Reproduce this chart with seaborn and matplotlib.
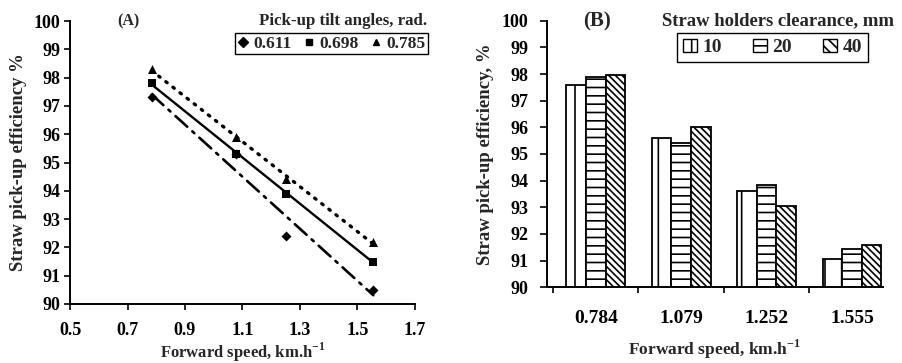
import numpy as np
import pandas as pd
import matplotlib
matplotlib.use('Agg')
import matplotlib.pyplot as plt
import seaborn as sns
from matplotlib.lines import Line2D
from matplotlib.patches import Patch

# ---- Panel A data ----
speeds = [0.784, 1.079, 1.252, 1.555]
tilt_labels = ['0.611', '0.698', '0.785']
eff_0611 = [97.3, 95.3, 92.4, 90.5]
eff_0698 = [97.8, 95.3, 93.9, 91.5]
eff_0785 = [98.3, 95.9, 94.4, 92.2]

# ---- Panel B data ----
speed_labels = ['0.784', '1.079', '1.252', '1.555']
clearance_labels = ['10', '20', '40']
bar_10 = [97.6, 95.6, 93.6, 91.05]
bar_20 = [97.9, 95.4, 93.85, 91.45]
bar_40 = [97.95, 96.0, 93.05, 91.6]

sns.set_style('ticks')
plt.rcParams['font.family'] = ['Liberation Serif', 'DejaVu Serif']
plt.rcParams['font.weight'] = 'bold'
plt.rcParams['axes.labelweight'] = 'bold'
plt.rcParams['mathtext.fontset'] = 'custom'
plt.rcParams['mathtext.rm'] = 'Liberation Serif:bold'
plt.rcParams['mathtext.bf'] = 'Liberation Serif:bold'
plt.rcParams['hatch.linewidth'] = 1.2
plt.rcParams['hatch.color'] = 'black'
plt.rcParams['axes.edgecolor'] = 'black'
plt.rcParams['xtick.color'] = 'black'
plt.rcParams['ytick.color'] = 'black'

W, H = 902, 363
fig = plt.figure(figsize=(W / 100, H / 100), dpi=100)
axA = fig.add_axes([70 / W, 1 - 304 / H, 345 / W, 283 / H])
axB = fig.add_axes([546.7 / W, 1 - 287.3 / H, 336 / W, 266.6 / H])

# ---------------- Panel A ----------------
markers = ['D', 's', '^']
msizes = [26, 32, 42]
styles = [(0, (6.0, 2.6, 1.0, 2.6)), '-', (0, (0.5, 2.2))]
lws = [1.9, 1.7, 2.4]
for vals, m, ms, ls, lw in zip([eff_0611, eff_0698, eff_0785], markers, msizes, styles, lws):
    sns.regplot(x=np.array(speeds), y=np.array(vals), ax=axA, ci=None,
                marker=m, color='black',
                scatter_kws=dict(s=ms, linewidths=0, alpha=1),
                line_kws=dict(lw=lw, ls=ls, dash_capstyle='round'))
axA.set_xlim(0.5, 1.7)
axA.set_ylim(90, 100)
axA.set_xticks(np.arange(0.5, 1.71, 0.2))
axA.set_xticklabels([f'{v:.1f}' for v in np.arange(0.5, 1.71, 0.2)])
axA.set_yticks(range(90, 101))
axA.tick_params(axis='both', labelsize=13, length=4, width=1.2, direction='out')
axA.tick_params(axis='x', pad=9)
axA.tick_params(axis='y', pad=3)
for s in ['top', 'right']:
    axA.spines[s].set_visible(False)
for s in ['left', 'bottom']:
    axA.spines[s].set_linewidth(1.4)
axA.set_xlabel('Forward speed, km.h$^{-1}$', fontsize=12, labelpad=1)
axA.set_ylabel('Straw pick-up efficiency %', fontsize=13.5, labelpad=5)
for lab in axA.get_xticklabels() + axA.get_yticklabels():
    lab.set_fontweight('bold')

handlesA = [Line2D([], [], ls='none', marker=m, color='black', markersize=4.8)
            for m in markers]
fig.legend(handlesA, tilt_labels, loc='upper right',
           bbox_to_anchor=(428 / W, 1 - 33 / H), ncol=3, frameon=True,
           fancybox=False, edgecolor='black', framealpha=1,
           prop=dict(size=12.5, weight='bold'), handlelength=0.6,
           handletextpad=0.3, columnspacing=0.7, borderpad=0.15,
           borderaxespad=0)
fig.text(427 / W, 1 - 21 / H, 'Pick-up tilt angles, rad.', ha='right',
         va='center', fontsize=12.2, fontweight='bold')
fig.text(128 / W, 1 - 21 / H, '(A)', ha='center', va='center',
         fontsize=11.5, fontweight='bold')

# ---------------- Panel B ----------------
df = pd.DataFrame({
    'speed': speed_labels * 3,
    'clearance': [c for c in clearance_labels for _ in speed_labels],
    'eff': bar_10 + bar_20 + bar_40,
})
sns.barplot(data=df, x='speed', y='eff', hue='clearance', ax=axB,
            palette=['white'] * 3, edgecolor='black', linewidth=1.3,
            width=0.69, gap=0, saturation=1, legend=False, errorbar=None)
hatches = ['|', '--', '\\\\\\\\\\']
for cont, h in zip(axB.containers, hatches):
    for bar in cont:
        bar.set_hatch(h)
axB.set_xlim(-0.575, 3.36)
axB.set_ylim(90, 100)
axB.set_yticks(range(90, 101))
axB.set_xticks(range(4))
axB.set_xticklabels(speed_labels)
axB.set_xticks([-0.5, 0.5, 1.5, 2.5], minor=True)
axB.tick_params(axis='x', which='major', length=0, labelsize=14, pad=16)
axB.tick_params(axis='x', which='minor', length=4, width=1.2, direction='out')
axB.tick_params(axis='y', labelsize=13, length=5, width=1.2, direction='out', pad=8)
for s in ['top', 'right']:
    axB.spines[s].set_visible(False)
for s in ['left', 'bottom']:
    axB.spines[s].set_linewidth(1.4)
axB.set_xlabel('Forward speed, km.h$^{-1}$', fontsize=12.5, labelpad=8)
axB.set_ylabel('Straw pick-up efficiency, %', fontsize=13.5, labelpad=6)
for lab in axB.get_xticklabels() + axB.get_yticklabels():
    lab.set_fontweight('bold')

handlesB = [Patch(facecolor='white', edgecolor='black', hatch=h, lw=1)
            for h in ['|', '--', '\\\\\\']]
fig.legend(handlesB, clearance_labels, loc='upper right',
           bbox_to_anchor=(868 / W, 1 - 33 / H), ncol=3, frameon=True,
           fancybox=False, edgecolor='black', framealpha=1,
           prop=dict(size=14, weight='bold'), handlelength=0.7,
           handleheight=0.7, handletextpad=0.3, columnspacing=1.6,
           borderpad=0.3, borderaxespad=0)
fig.text(778 / W, 1 - 21 / H, 'Straw holders clearance, mm', ha='center',
         va='center', fontsize=13.4, fontweight='bold')
fig.text(597 / W, 1 - 21 / H, '(B)', ha='center', va='center',
         fontsize=15, fontweight='bold')

fig.savefig('out.png', dpi=100)
